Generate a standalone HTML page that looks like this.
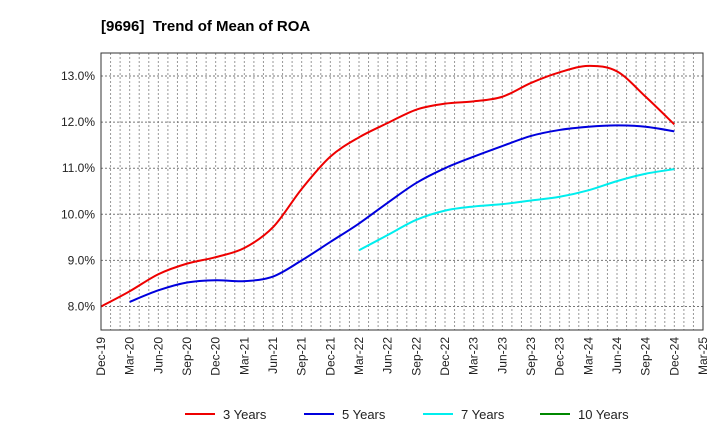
<!DOCTYPE html>
<html><head><meta charset="utf-8"><style>
body{margin:0;background:#fff;font-family:"Liberation Sans",Arial,sans-serif}
svg text{font-family:"Liberation Sans",Arial,sans-serif}
</style></head><body>
<svg id="c" width="720" height="440" xmlns="http://www.w3.org/2000/svg">
<text x="101" y="31" font-size="15" font-weight="bold" fill="#000" xml:space="preserve">[9696]  Trend of Mean of ROA</text>
<g id="grid"></g>
<g id="series"></g>
<rect x="101" y="53" width="602" height="277" fill="none" stroke="#333" stroke-width="1"/>
<g id="axes"></g>
<g id="legend"></g>
</svg>
<script>
const xLabels=["Dec-19","Mar-20","Jun-20","Sep-20","Dec-20","Mar-21","Jun-21","Sep-21","Dec-21","Mar-22","Jun-22","Sep-22","Dec-22","Mar-23","Jun-23","Sep-23","Dec-23","Mar-24","Jun-24","Sep-24","Dec-24","Mar-25"];
const yTicks=[8,9,10,11,12,13];
const yTickLabels=["8.0%","9.0%","10.0%","11.0%","12.0%","13.0%"];
const seriesNames=["3 Years","5 Years","7 Years","10 Years"];
const seriesColors=["#e00","#00d","#0ee","#080"];
const s3=[8.0,8.33,8.7,8.93,9.07,9.27,9.72,10.55,11.25,11.67,11.98,12.27,12.4,12.45,12.55,12.85,13.08,13.22,13.1,12.55,11.95];
const s5=[null,8.1,8.35,8.52,8.57,8.55,8.65,9.0,9.4,9.8,10.25,10.68,11.0,11.25,11.48,11.7,11.83,11.9,11.93,11.9,11.8];
const s7=[null,null,null,null,null,null,null,null,null,9.22,9.55,9.88,10.08,10.17,10.22,10.3,10.38,10.52,10.72,10.88,10.98];
const s10=[];
const NS="http://www.w3.org/2000/svg";
const X0=101,X1=703,Y0=53,Y1=330;
const xs=i=>X0+i*(X1-X0)/21;
const ys=v=>306.5-(v-8)*46.1;
function el(t,a,p){const e=document.createElementNS(NS,t);for(const k in a)e.setAttribute(k,a[k]);p.appendChild(e);return e;}
const grid=document.getElementById('grid'),axes=document.getElementById('axes');
for(let m=1;m<63;m++){const x=X0+m*(X1-X0)/63;
 const l=el('line',{x1:x,x2:x,y1:Y0,y2:Y1,stroke:'#999','stroke-dasharray':'2,2','stroke-width':1},grid);
 
 }
yTicks.forEach((v,i)=>{const y=ys(v);
 const l=el('line',{x1:X0,x2:X1,y1:y,y2:y,stroke:'#777','stroke-dasharray':'2,2','stroke-width':1},grid);
 
 
 const t=el('text',{x:X0-6,y:y+4,'font-size':12,'text-anchor':'end',fill:'#222'},axes);t.textContent=yTickLabels[i];
 
 });
xLabels.forEach((s,i)=>{const x=xs(i);
 const t=el('text',{x:0,y:0,'font-size':12,'text-anchor':'end',fill:'#222',transform:`translate(${x+4},${Y1+7}) rotate(-90)`},axes);t.textContent=s;
 
 });
function path(data){const p=[];data.forEach((v,i)=>{if(v!=null)p.push([xs(i),ys(v)]);});
 if(p.length<2)return '';let d=`M${p[0][0]},${p[0][1]}`;
 for(let i=0;i<p.length-1;i++){const a=p[Math.max(0,i-1)],b=p[i],c=p[i+1],e=p[Math.min(p.length-1,i+2)];
  d+=` C${b[0]+(c[0]-a[0])/6},${b[1]+(c[1]-a[1])/6} ${c[0]-(e[0]-b[0])/6},${c[1]-(e[1]-b[1])/6} ${c[0]},${c[1]}`;}
 return d;}
const ser=document.getElementById('series');
[s3,s5,s7,s10].forEach((s,k)=>{const d=path(s);if(!d)return;
 const e=el('path',{d:d,fill:'none',stroke:seriesColors[k],'stroke-width':2},ser);
 
 });
const leg=document.getElementById('legend');const lx=[185,304,423,540];
seriesNames.forEach((n,k)=>{
 const l=el('line',{x1:lx[k],x2:lx[k]+30,y1:414,y2:414,stroke:seriesColors[k],'stroke-width':2},leg);
 
 
 const t=el('text',{x:lx[k]+38,y:419,'font-size':13,fill:'#222'},leg);t.textContent=n;
 
 });
</script>
</body></html>
